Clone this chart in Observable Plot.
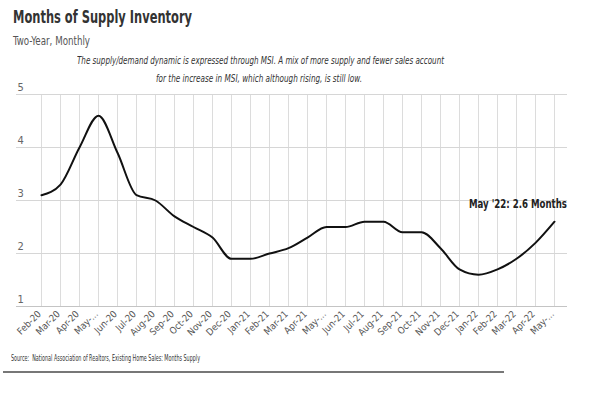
<!DOCTYPE html>
<html>
<head>
<meta charset="utf-8">
<script src="https://cdn.jsdelivr.net/npm/d3@7"></script>
<script src="https://cdn.jsdelivr.net/npm/@observablehq/plot@0.6"></script>
<style>
  html, body { margin: 0; padding: 0; background: #fff; }
  #wrap { position: relative; width: 598px; height: 393px; overflow: hidden; font-family: "Liberation Sans Narrow", "DejaVu Sans", sans-serif; font-stretch: condensed; }
  .t { position: absolute; white-space: nowrap; transform-origin: 0 0; }
  #title { left: 13px; top: 6px; font-size: 18px; font-weight: bold; color: #333; }
  #sub { left: 13px; top: 33px; font-size: 13px; color: #555; }
  .note { font-size: 11px; font-style: italic; color: #333; }
  #n1 { top: 54px; }
  #n2 { top: 72px; }
  #src { left: 11px; top: 354px; font-size: 8px; color: #333; }
  #rule { position: absolute; left: 3px; top: 371px; width: 501px; height: 0; border-top: 2px solid #777; }
  #chart { position: absolute; left: 0; top: 70px; }
  #annot { position: absolute; top: 199px; font-size: 13px; font-weight: bold; color: #222; }
</style>
</head>
<body>
<div id="wrap">
  <div class="t" id="title">Months of Supply Inventory</div>
  <div class="t" id="sub">Two-Year, Monthly</div>
  <div class="t note" id="n1">The supply/demand dynamic is expressed through MSI. A mix of more supply and fewer sales account</div>
  <div class="t note" id="n2">for the increase in MSI, which although rising, is still low.</div>
  <div id="chart"></div>
  <div class="t" id="src">Source:&nbsp; National Association of Realtors, Existing Home Sales: Months Supply</div>
  <div id="rule"></div>
</div>
<script>
const months = ["Feb-20","Mar-20","Apr-20","May-20","Jun-20","Jul-20","Aug-20","Sep-20","Oct-20","Nov-20","Dec-20",
  "Jan-21","Feb-21","Mar-21","Apr-21","May-21","Jun-21","Jul-21","Aug-21","Sep-21","Oct-21","Nov-21","Dec-21",
  "Jan-22","Feb-22","Mar-22","Apr-22","May-22"];
const tickLabels = ["Feb-20","Mar-20","Apr-20","May-...","Jun-20","Jul-20","Aug-20","Sep-20","Oct-20","Nov-20","Dec-20",
  "Jan-21","Feb-21","Mar-21","Apr-21","May-...","Jun-21","Jul-21","Aug-21","Sep-21","Oct-21","Nov-21","Dec-21",
  "Jan-22","Feb-22","Mar-22","Apr-22","May-..."];
const supply = [3.1,3.3,4.0,4.6,3.9,3.1,3.0,2.7,2.5,2.3,1.9,
  1.9,2.0,2.1,2.3,2.5,2.5,2.6,2.6,2.4,2.4,2.1,1.7,
  1.6,1.7,1.9,2.2,2.6];
const yTicks = [1,2,3,4,5];
const annotation = "May '22: 2.6 Months";

const data = months.map((m, i) => ({month: m, value: supply[i]}));
const labelOf = new Map(months.map((m, i) => [m, tickLabels[i]]));
const last = data[data.length - 1];
const font = '"Liberation Sans Narrow", "DejaVu Sans", sans-serif';

const chart = Plot.plot({
  width: 598,
  height: 290,
  marginTop: 24,
  marginBottom: 54,
  marginLeft: 16,
  marginRight: 31,
  style: {fontFamily: font, fontStretch: "condensed", background: "transparent"},
  x: {type: "point", domain: months, insetLeft: 21, insetRight: 10, padding: 0},
  y: {domain: [1, 5], axis: null},
  marks: [
    Plot.ruleX(months, {x: d => d, y1: 1, y2: 5, stroke: "#dcdcdc", strokeWidth: 1}),
    Plot.ruleY(yTicks, {y: d => d, stroke: d => d === 1 ? "#c4c4c4" : "#d6d6d6", strokeWidth: 1}),
    Plot.text(yTicks, {y: d => d, text: d => String(d), frameAnchor: "left", textAnchor: "start", dx: 1, dy: -7, fontSize: 11, fill: "#666"}),
    Plot.axisX({tickRotate: -45, tickSize: 0, tickPadding: 6, dx: -2, fontSize: 9.5, color: "#555", tickFormat: d => labelOf.get(d), label: null}),
    Plot.line(data, {x: "month", y: "value", curve: "monotone-x", stroke: "#111", strokeWidth: 2})
  ]
});
document.getElementById("chart").appendChild(chart);

// annotation at the last point, placed through the chart's own scales
const ann = document.createElement("div");
ann.className = "t";
ann.id = "annot";
ann.textContent = annotation;
document.getElementById("wrap").appendChild(ann);
const px = chart.scale("x").apply(last.month);
const py = chart.scale("y").apply(last.value) + 70;

// squeeze narrow texts to the reference widths
function fit(el, width, left) {
  const w = el.getBoundingClientRect().width;
  el.style.transform = `scaleX(${width / w})`;
  if (left != null) el.style.left = left + "px";
}
fit(document.getElementById("title"), 179);
fit(document.getElementById("sub"), 77);
fit(document.getElementById("n1"), 367, 260 - 367 / 2);
fit(document.getElementById("n2"), 206, 259 - 206 / 2);
fit(document.getElementById("src"), 189);
fit(ann, 98, px + 13 - 98);
ann.style.top = (py - 25) + "px";
</script>
</body>
</html>
